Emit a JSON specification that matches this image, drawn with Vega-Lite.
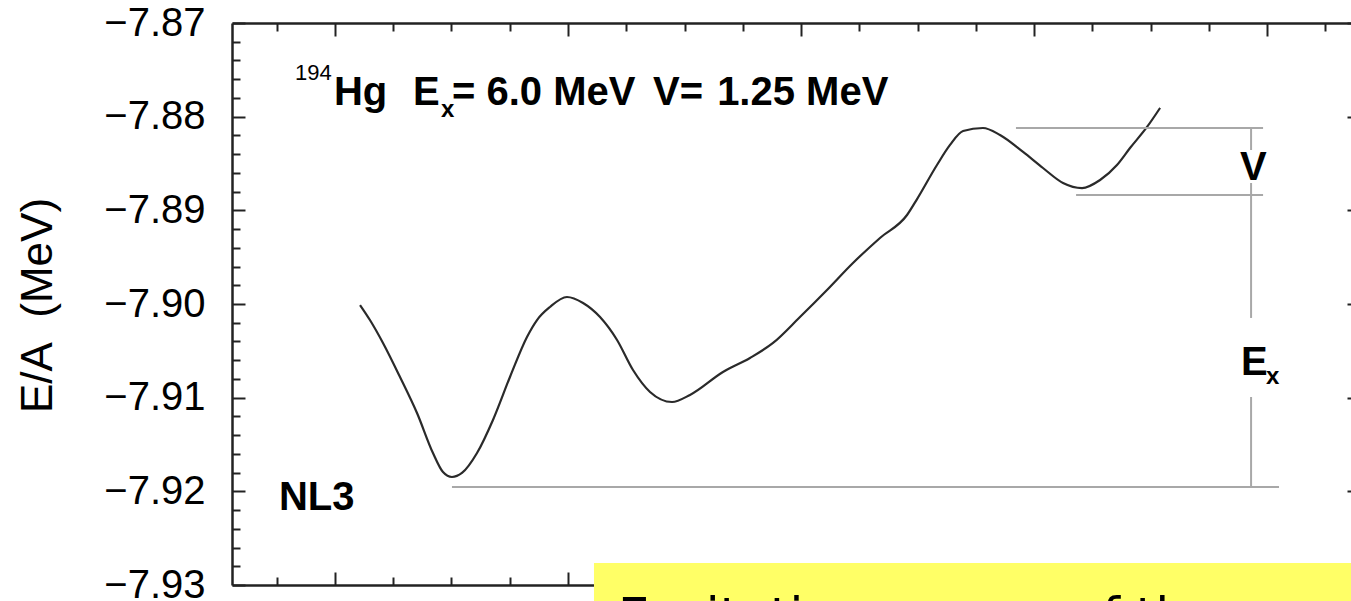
{
  "$schema": "https://vega.github.io/schema/vega-lite/v6.json",
  "autosize": {"type": "none"},
  "width": 1119,
  "height": 562,
  "padding": {"left": 232, "top": 23, "right": 0, "bottom": 16},
  "background": "white",
  "config": {
    "view": {"stroke": null},
    "axis": {"grid": false, "zindex": 0, "domainColor": "#222", "domainWidth": 2.5, "tickColor": "#222", "tickWidth": 2, "labelOverlap": false, "labelBound": false, "labelFlush": false}
  },
  "datasets": {
    "curve": [
      {"q": 22.15, "e": -7.90011}, {"q": 23.00, "e": -7.90171}, {"q": 24.12, "e": -7.90416}, {"q": 25.58, "e": -7.90779},
      {"q": 27.04, "e": -7.91164}, {"q": 28.41, "e": -7.91591}, {"q": 29.27, "e": -7.91794}, {"q": 30.04, "e": -7.91847},
      {"q": 30.90, "e": -7.91804}, {"q": 32.19, "e": -7.91591}, {"q": 33.56, "e": -7.91238}, {"q": 35.02, "e": -7.90779},
      {"q": 36.48, "e": -7.90352}, {"q": 37.34, "e": -7.90171}, {"q": 38.45, "e": -7.90032}, {"q": 39.91, "e": -7.89925},
      {"q": 41.29, "e": -7.89989}, {"q": 42.75, "e": -7.90139}, {"q": 44.21, "e": -7.90384}, {"q": 45.58, "e": -7.90705},
      {"q": 47.04, "e": -7.90939}, {"q": 48.93, "e": -7.91046}, {"q": 50.47, "e": -7.90971}, {"q": 53.30, "e": -7.90726},
      {"q": 55.62, "e": -7.90576}, {"q": 57.60, "e": -7.90416}, {"q": 59.91, "e": -7.90139}, {"q": 62.23, "e": -7.89850},
      {"q": 64.46, "e": -7.89562}, {"q": 66.78, "e": -7.89295}, {"q": 69.10, "e": -7.89050}, {"q": 69.96, "e": -7.88880},
      {"q": 71.67, "e": -7.88516}, {"q": 72.79, "e": -7.88302}, {"q": 73.91, "e": -7.88153}, {"q": 75.62, "e": -7.88121},
      {"q": 77.08, "e": -7.88196}, {"q": 79.06, "e": -7.88377}, {"q": 80.77, "e": -7.88548}, {"q": 82.49, "e": -7.88708},
      {"q": 84.12, "e": -7.88762}, {"q": 85.67, "e": -7.88676}, {"q": 87.12, "e": -7.88516}, {"q": 88.24, "e": -7.88335},
      {"q": 89.70, "e": -7.88110}, {"q": 90.82, "e": -7.87907}
    ],
    "hlines": [
      {"x1": 78.45, "x2": 99.66, "y": -7.88121},
      {"x1": 83.61, "x2": 99.66, "y": -7.88836},
      {"x1": 30.04, "x2": 101.03, "y": -7.91954}
    ],
    "vlines": [
      {"x": 98.63, "y1": -7.88130, "y2": -7.88356},
      {"x": 98.63, "y1": -7.88708, "y2": -7.90149},
      {"x": 98.63, "y1": -7.90993, "y2": -7.91964}
    ],
    "bigtext": [
      {"t": "Hg", "x": 19.91, "y": -7.87875},
      {"t": "E", "x": 26.70, "y": -7.87875},
      {"t": "= 6.0 MeV", "x": 30.04, "y": -7.87875},
      {"t": "V=", "x": 47.30, "y": -7.87875},
      {"t": "1.25 MeV", "x": 52.80, "y": -7.87875},
      {"t": "NL3", "x": 15.19, "y": -7.92199},
      {"t": "V", "x": 97.68, "y": -7.88676},
      {"t": "E", "x": 97.77, "y": -7.90758}
    ],
    "subtext": [
      {"t": "x", "x": 29.10, "y": -7.88004},
      {"t": "x", "x": 99.91, "y": -7.90854}
    ],
    "suptext": [
      {"t": "194", "x": 16.57, "y": -7.87609}
    ],
    "box": [
      {"x1": 42.23, "x2": 112.0, "y1": -7.92765, "y2": -7.9400}
    ],
    "boxtext": [
      {"t": "Excitation energy of the second minimum", "x": 44.29, "y": -7.93510}
    ]
  },
  "layer": [
    {
      "data": {"name": "curve"},
      "mark": {"type": "line", "color": "#2a2a2a", "strokeWidth": 2.2, "interpolate": "monotone", "clip": true},
      "encoding": {
        "x": {"field": "q", "type": "quantitative",
          "scale": {"domain": [11.16, 107.98], "range": [0, 1128], "nice": false, "zero": false},
          "axis": {"orient": "bottom", "title": null, "labels": false,
            "values": [15, 20, 25, 30, 35, 40, 45, 50, 55, 60, 65, 70, 75, 80, 85, 90, 95, 100, 105],
            "tickSize": {"condition": {"test": "datum.value % 20 == 0", "value": -13}, "value": -8}}},
        "y": {"field": "e", "type": "quantitative",
          "scale": {"domain": [-7.93, -7.87], "nice": false, "zero": false},
          "axis": {"orient": "left",
            "values": [-7.93, -7.928, -7.926, -7.924, -7.922, -7.92, -7.918, -7.916, -7.914, -7.912, -7.91, -7.908, -7.906, -7.904, -7.902, -7.9, -7.898, -7.896, -7.894, -7.892, -7.89, -7.888, -7.886, -7.884, -7.882, -7.88, -7.878, -7.876, -7.874, -7.872, -7.87],
            "format": ".2f",
            "labelExpr": "abs(datum.value*100 - round(datum.value*100)) < 0.01 ? datum.label : ''",
            "tickSize": {"condition": {"test": "abs(datum.value*100 - round(datum.value*100)) < 0.01", "value": -13}, "value": -8},
            "labelPadding": 40, "labelFontSize": 40, "labelFont": "Liberation Sans", "labelColor": "#000",
            "title": "E/A\u00a0 (MeV)", "titleFontSize": 44, "titleFont": "Liberation Sans", "titleFontWeight": "normal", "titleColor": "#000",
            "titleX": -194, "titleY": 282, "titleAlign": "center", "titleBaseline": "middle", "titleAngle": -90}}
      }
    },
    {
      "data": {"name": "hlines"},
      "mark": {"type": "rule", "color": "#a8a8a8", "strokeWidth": 2},
      "encoding": {
        "x": {"field": "x1", "type": "quantitative",
          "scale": {"domain": [11.16, 107.98], "range": [0, 1128], "nice": false, "zero": false},
          "axis": {"orient": "top", "title": null, "labels": false,
            "values": [15, 20, 25, 30, 35, 40, 45, 50, 55, 60, 65, 70, 75, 80, 85, 90, 95, 100, 105],
            "tickSize": {"condition": {"test": "datum.value % 20 == 0", "value": -13}, "value": -8}}},
        "x2": {"field": "x2"},
        "y": {"field": "y", "type": "quantitative",
          "scale": {"domain": [-7.93, -7.87], "nice": false, "zero": false},
          "axis": {"orient": "right", "title": null, "labels": false, "offset": 9,
            "values": [-7.93, -7.928, -7.926, -7.924, -7.922, -7.92, -7.918, -7.916, -7.914, -7.912, -7.91, -7.908, -7.906, -7.904, -7.902, -7.9, -7.898, -7.896, -7.894, -7.892, -7.89, -7.888, -7.886, -7.884, -7.882, -7.88, -7.878, -7.876, -7.874, -7.872, -7.87],
            "tickSize": {"condition": {"test": "abs(datum.value*100 - round(datum.value*100)) < 0.01", "value": -13}, "value": -8}}}
      }
    },
    {
      "data": {"name": "vlines"},
      "mark": {"type": "rule", "color": "#a8a8a8", "strokeWidth": 2},
      "encoding": {
        "x": {"field": "x", "type": "quantitative", "axis": null},
        "y": {"field": "y1", "type": "quantitative", "axis": null},
        "y2": {"field": "y2"}
      }
    },
    {
      "data": {"name": "bigtext"},
      "mark": {"type": "text", "font": "Liberation Sans", "fontWeight": "bold", "fontSize": 40, "align": "left", "baseline": "alphabetic", "color": "#000"},
      "encoding": {
        "x": {"field": "x", "type": "quantitative", "axis": null},
        "y": {"field": "y", "type": "quantitative", "axis": null},
        "text": {"field": "t"}
      }
    },
    {
      "data": {"name": "subtext"},
      "mark": {"type": "text", "font": "Liberation Sans", "fontWeight": "bold", "fontSize": 24, "align": "left", "baseline": "alphabetic", "color": "#000"},
      "encoding": {
        "x": {"field": "x", "type": "quantitative", "axis": null},
        "y": {"field": "y", "type": "quantitative", "axis": null},
        "text": {"field": "t"}
      }
    },
    {
      "data": {"name": "suptext"},
      "mark": {"type": "text", "font": "Liberation Sans", "fontWeight": "normal", "fontSize": 22, "align": "left", "baseline": "alphabetic", "color": "#000"},
      "encoding": {
        "x": {"field": "x", "type": "quantitative", "axis": null},
        "y": {"field": "y", "type": "quantitative", "axis": null},
        "text": {"field": "t"}
      }
    },
    {
      "data": {"name": "box"},
      "mark": {"type": "rect", "color": "#ffff66", "clip": false},
      "encoding": {
        "x": {"field": "x1", "type": "quantitative", "axis": null},
        "x2": {"field": "x2"},
        "y": {"field": "y1", "type": "quantitative", "axis": null},
        "y2": {"field": "y2"}
      }
    },
    {
      "data": {"name": "boxtext"},
      "mark": {"type": "text", "font": "DejaVu Sans", "fontSize": 50, "align": "left", "baseline": "alphabetic", "color": "#000"},
      "encoding": {
        "x": {"field": "x", "type": "quantitative", "axis": null},
        "y": {"field": "y", "type": "quantitative", "axis": null},
        "text": {"field": "t"}
      }
    }
  ],
  "resolve": {"axis": {"x": "independent", "y": "independent"}}
}
